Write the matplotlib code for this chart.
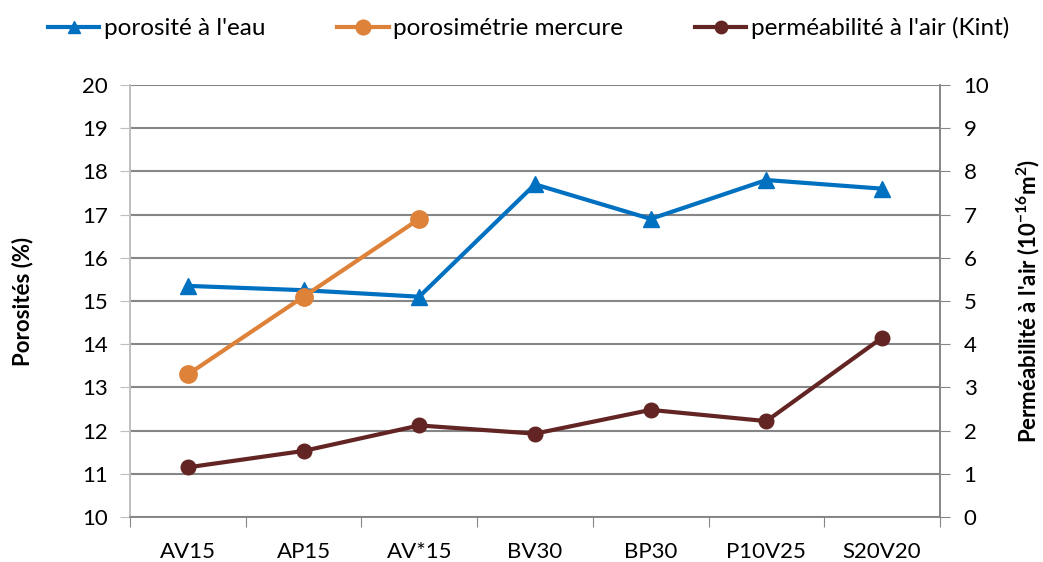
import matplotlib.pyplot as plt
import numpy as np

plt.rcParams['font.family'] = ['Lato', 'DejaVu Sans']
plt.rcParams['mathtext.fontset'] = 'custom'
plt.rcParams['mathtext.rm'] = 'Lato'
plt.rcParams['mathtext.bf'] = 'Lato:bold'

samples = ['AV15', 'AP15', 'AV*15', 'BV30', 'BP30', 'P10V25', 'S20V20']
poro_eau = [15.35, 15.25, 15.1, 17.7, 16.9, 17.8, 17.6]
poro_mercure = [13.3, 15.1, 16.9]
permea_kint = [1.15, 1.53, 2.12, 1.93, 2.48, 2.22, 4.15]

c_blue = '#0070C0'
c_orange = '#DE8139'
c_red = '#632523'
c_grid = '#868686'

fig = plt.figure(figsize=(10.43, 5.62), dpi=100)
ax = fig.add_axes([0.1246, 0.080, 0.7766, 0.7688])
ax2 = ax.twinx()

x = np.arange(len(samples))
l1, = ax.plot(x, poro_eau, color=c_blue, lw=3, marker='^', ms=11,
              label="porosité à l'eau")
l2, = ax.plot(x[:len(poro_mercure)], poro_mercure, color=c_orange, lw=3,
              marker='o', ms=12.5, label='porosimétrie mercure')
l3, = ax2.plot(x, permea_kint, color=c_red, lw=3, marker='o', ms=10.5,
               label="perméabilité à l'air (Kint)")

ax.set_xlim(-0.5, len(samples) - 0.5)
ax.set_ylim(10, 20)
ax2.set_ylim(0, 10)
ax.set_yticks(np.arange(10, 21, 1))
ax2.set_yticks(np.arange(0, 11, 1))

# category labels in the middle, tick marks on the boundaries
ax.set_xticks(np.arange(-0.5, len(samples), 1))
ax.set_xticklabels([])
ax.set_xticks(x, minor=True)
ax.set_xticklabels(samples, minor=True)
ax.tick_params(axis='x', which='major', length=7, color=c_grid, direction='out')
ax.tick_params(axis='x', which='minor', length=0, labelsize=16, pad=18)
ax.tick_params(axis='y', length=7, color='#BFBFBF', labelsize=16, pad=9)
ax2.tick_params(axis='y', length=7, color=c_grid, labelsize=16, pad=10)

ax.grid(axis='y', color=c_grid, lw=1.5)
ax.set_axisbelow(True)
for a in (ax, ax2):
    a.spines['top'].set_visible(False)
    a.spines['bottom'].set_color(c_grid)
    a.spines['left'].set_color('#BFBFBF')
    a.spines['right'].set_color(c_grid)
    a.spines['left'].set_linewidth(1.2)
    a.spines['right'].set_linewidth(1.2)
    a.spines['bottom'].set_linewidth(1.2)

ax.set_ylabel('Porosités (%)', fontsize=16, fontweight='bold', labelpad=35)
ax2.set_ylabel(r"Perméabilité à l'air (10$^{\mathbf{-16}}$m$^{\mathbf{2}}$)",
               fontsize=16, fontweight='bold', labelpad=18)

fig.legend(handles=[l1, l2, l3], loc='center', bbox_to_anchor=(0.507, 0.95),
           ncol=3, frameon=False, fontsize=17.5, handlelength=2.1,
           handletextpad=0.2, columnspacing=2.95, markerscale=0.85)

fig.savefig('out.png', dpi=100)
